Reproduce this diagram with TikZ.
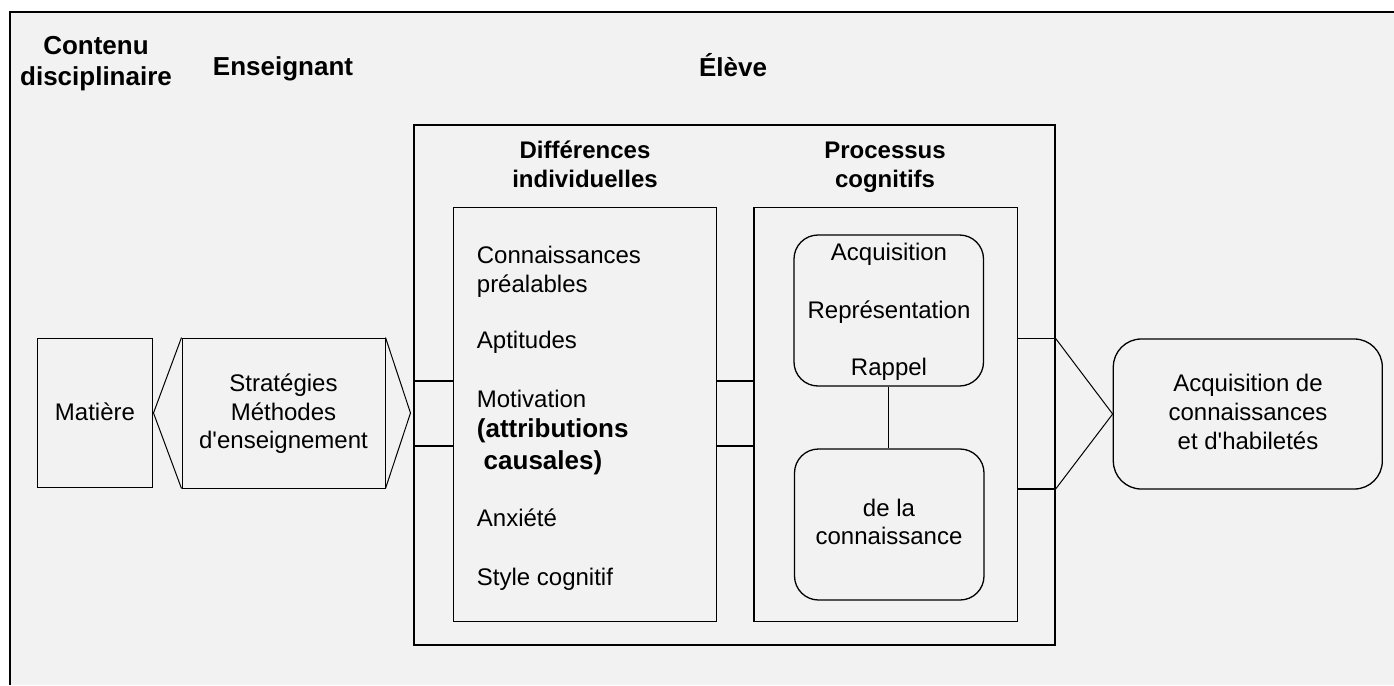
\documentclass[tikz,border=0pt]{standalone}
\usepackage{fontspec}
\setmainfont{Liberation Sans}[Ligatures=TeXOff]
\definecolor{bg}{HTML}{F2F2F2}
\begin{document}
\begin{tikzpicture}[x=1pt,y=-1pt,
  box/.style={draw, line width=1.3pt, rectangle, inner sep=0pt},
  rbox/.style={box, rounded corners=24pt},
  txt/.style={font=\fontsize{24}{29}\selectfont, inner sep=0pt, anchor=base},
  ltxt/.style={txt, anchor=base west},
  hdr/.style={font=\fontsize{26}{30}\selectfont\bfseries, inner sep=0pt, anchor=base},
  sub/.style={font=\fontsize{24}{29}\selectfont\bfseries, inner sep=0pt, anchor=base},
  conn/.style={line width=1.3pt},
  thin/.style={line width=1pt}]
\useasboundingbox (0,0) rectangle (1394,685);
\fill[white] (0,0) rectangle (1394,685);
\fill[bg] (10,12) rectangle (1394,685);
\draw[line width=2.5pt] (10,685) -- (10,12) -- (1394,12);

% boxes
\node[box, minimum width=641pt, minimum height=520pt] (big) at (734.5,385) {};
\node[box, minimum width=263.5pt, minimum height=414pt] (diff) at (585,414.5) {};
\node[box, minimum width=263.5pt, minimum height=414pt] (proc) at (885.75,414.5) {};
\node[rbox, minimum width=189.5pt, minimum height=151pt] (acqb) at (888.75,310.5) {};
\node[rbox, minimum width=189.5pt, minimum height=151pt] (conb) at (889.25,524.5) {};
\node[box, minimum width=115.4pt, minimum height=149.4pt] (mat) at (95,413) {};
\node[box, thin, minimum width=203pt, minimum height=150pt] (strat) at (283.5,413) {};
\node[rbox, rounded corners=28pt, minimum width=269pt, minimum height=150pt] (out) at (1247.8,414) {};

% hexagon tips
\coordinate (sl) at (153.5,413);
\coordinate (sr) at (410.5,413);
\draw[thin] (strat.north west) -- (sl) -- (strat.south west);
\draw[thin] (strat.north east) -- (sr) -- (strat.south east);

% connectors
\coordinate (y1) at (0,381);
\coordinate (y2) at (0,446);
\coordinate (y3) at (0,338.5);
\coordinate (y4) at (0,489);
\draw[conn] (big.west |- y1) -- (diff.west |- y1);
\draw[conn] (big.west |- y2) -- (diff.west |- y2);
\draw[conn] (diff.east |- y1) -- (proc.west |- y1);
\draw[conn] (diff.east |- y2) -- (proc.west |- y2);
\draw[conn] (acqb.south) -- (acqb.south |- conb.north);
\draw[conn] (proc.east |- y3) -- (big.east |- y3);
\draw[conn] (proc.east |- y4) -- (big.east |- y4);
\draw[thin] (big.east |- y3) -- (out.west) -- (big.east |- y4);

% headers
\node[hdr] (h1a) at (96,55) {Contenu};
\node[hdr] (h1b) at (96,85) {disciplinaire};
\node[hdr] (h2) at (283,75) {Enseignant};
\node[hdr] (h3) at (733,76) {Élève};
\node[sub] (s1a) at (585,158) {Différences};
\node[sub] (s1b) at (585,187) {individuelles};
\node[sub] (s2a) at (885,158) {Processus};
\node[sub] (s2b) at (885,187) {cognitifs};

% left texts
\node[txt] (tm) at (95,420) {Matière};
\node[txt] (ts1) at (283.5,391.7) {Stratégies};
\node[txt] (ts2) at (283.5,420) {Méthodes};
\node[txt] (ts3) at (283.5,448) {d'enseignement};

% differences
\node[ltxt] (d1) at (476.7,263) {Connaissances};
\node[ltxt] (d2) at (476.7,292) {préalables};
\node[ltxt] (d3) at (476.7,348) {Aptitudes};
\node[ltxt] (d4) at (476.7,407) {Motivation};
\node[ltxt, font=\fontsize{26}{30}\selectfont\bfseries] (d5) at (476.7,437) {(attributions};
\node[ltxt, font=\fontsize{26}{30}\selectfont\bfseries] (d6) at (483.5,469) {causales)};
\node[ltxt] (d7) at (476.7,526.7) {Anxiété};
\node[ltxt] (d8) at (476.7,585) {Style cognitif};

% processus
\node[txt] (p1) at (889,260) {Acquisition};
\node[txt] (p2) at (889,318) {Représentation};
\node[txt] (p3) at (889,375) {Rappel};
\node[txt] (p4) at (889,516.7) {de la};
\node[txt] (p5) at (889,544) {connaissance};

% output
\node[txt] (o1) at (1248,391.7) {Acquisition de};
\node[txt] (o2) at (1248,420) {connaissances};
\node[txt] (o3) at (1248,449.3) {et d'habiletés};
\end{tikzpicture}
\end{document}
